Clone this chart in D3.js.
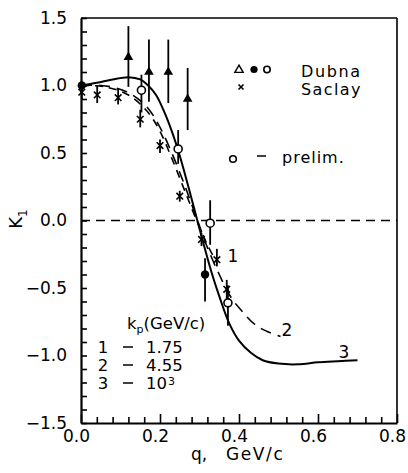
<!DOCTYPE html>
<html><head><meta charset="utf-8">
<script src="https://cdn.jsdelivr.net/npm/d3@7"></script>
<style>body{margin:0;background:#fff}svg{display:block}</style>
</head><body><svg id="c" width="408" height="473"></svg>
<script>
// ---------- data ----------
const xMajor = [0, 0.2, 0.4, 0.6, 0.8];
const xMajorLabels = ["0.0", "0.2", "0.4", "0.6", "0.8"];
const yMajor = [-1.5, -1.0, -0.5, 0.0, 0.5, 1.0, 1.5];
const yMajorLabels = ["\u22121.5", "\u22121.0", "\u22120.5", "0.0", "0.5", "1.0", "1.5"];

// theory curves (q, K1)
const curve1Q = [0.0, 0.06, 0.12, 0.17, 0.20, 0.23, 0.26, 0.29, 0.32, 0.345];
const curve1K = [1.0, 0.99, 0.93, 0.80, 0.66, 0.46, 0.24, 0.02, -0.18, -0.32];
const curve2Q = [0.0, 0.05, 0.09, 0.13, 0.17, 0.20, 0.23, 0.26, 0.28, 0.30, 0.32, 0.35, 0.38, 0.41, 0.44, 0.47, 0.505];
const curve2K = [1.0, 1.0, 0.98, 0.93, 0.83, 0.69, 0.50, 0.28, 0.12, -0.04, -0.20, -0.40, -0.57, -0.68, -0.77, -0.82, -0.86];
const curve3Q = [0.0, 0.04, 0.08, 0.12, 0.15, 0.17, 0.19, 0.21, 0.23, 0.25, 0.27, 0.29, 0.31, 0.33, 0.35, 0.375, 0.40, 0.43, 0.46, 0.50, 0.55, 0.60, 0.65, 0.70];
const curve3K = [1.0, 1.02, 1.045, 1.062, 1.045, 1.0, 0.93, 0.81, 0.66, 0.48, 0.27, 0.05, -0.17, -0.38, -0.56, -0.76, -0.89, -0.98, -1.035, -1.06, -1.065, -1.05, -1.042, -1.035];

// Dubna triangles
const triQ  = [0.12, 0.172, 0.221, 0.27];
const triK  = [1.21, 1.10, 1.10, 0.90];
const triLo = [0.99, 0.88, 0.87, 0.67];
const triHi = [1.44, 1.34, 1.34, 1.13];
// Dubna filled circles
const dotQ  = [0.002, 0.314];
const dotK  = [1.0, -0.40];
const dotLo = [1.0, -0.60];
const dotHi = [1.0, -0.28];
// preliminary (open circles)
const openQ  = [0.153, 0.246, 0.327, 0.372];
const openK  = [0.965, 0.53, -0.02, -0.61];
const openLo = [0.80, 0.42, -0.18, -0.78];
const openHi = [1.08, 0.67, 0.15, -0.48];
// Saclay crosses
const sacQ  = [0.002, 0.041, 0.094, 0.15, 0.20, 0.25, 0.305, 0.344, 0.369];
const sacK  = [0.95, 0.93, 0.91, 0.75, 0.555, 0.18, -0.14, -0.29, -0.51];
const sacLo = [0.90, 0.87, 0.86, 0.69, 0.50, 0.14, -0.19, -0.34, -0.58];
const sacHi = [1.00, 1.00, 0.98, 0.82, 0.60, 0.22, -0.09, -0.21, -0.44];

// ---------- drawing ----------
const FONT = "DejaVu Sans, Liberation Sans, sans-serif";
const svg = d3.select("#c");
svg.append("rect").attr("width", 408).attr("height", 473).attr("fill", "#fff");

const x = d3.scaleLinear().domain([0, 0.8]).range([81, 397]);
const y = d3.scaleLinear().domain([-1.5, 1.5]).range([423, 18]);

// frame
svg.append("line").attr("x1", x(0)).attr("x2", x(0.8)).attr("y1", y(1.5)).attr("y2", y(1.5))
  .attr("stroke", "#000").attr("stroke-width", 1.6);
svg.append("line").attr("x1", x(0.8)).attr("x2", x(0.8)).attr("y1", y(1.5)).attr("y2", y(-1.5))
  .attr("stroke", "#000").attr("stroke-width", 1.6);

// y axis
const yMinor = d3.range(-15, 16).map(d => d / 10);
const yAx = svg.append("g").attr("transform", `translate(${x(0)},0)`)
  .call(d3.axisLeft(y).tickValues(yMinor).tickSizeInner(-6).tickSizeOuter(0).tickPadding(14)
    .tickFormat(d => { const i = yMajor.findIndex(v => Math.abs(v - d) < 1e-9); return i >= 0 ? yMajorLabels[i] : ""; }));
yAx.select(".domain").attr("stroke-width", 2.2);
yAx.selectAll(".tick line").attr("stroke-width", 1.6);
yAx.selectAll("text").attr("font-family", FONT).attr("font-size", 17).attr("fill", "#000");

// x axis
const xMinor = d3.range(0, 21).map(d => d * 0.04);
const xAx = svg.append("g").attr("transform", `translate(0,${y(-1.5)})`)
  .call(d3.axisBottom(x).tickValues(xMinor).tickSizeInner(-6).tickSizeOuter(0).tickPadding(7)
    .tickFormat(d => { const i = xMajor.findIndex(v => Math.abs(v - d) < 1e-9); return i >= 0 ? xMajorLabels[i] : ""; }));
xAx.select(".domain").attr("stroke-width", 2.2);
xAx.selectAll(".tick line").attr("stroke-width", 1.6)
  .attr("y2", d => xMajor.some(v => Math.abs(v - d) < 1e-9) ? -9 : -6);
xAx.selectAll("text").attr("font-family", FONT).attr("font-size", 17).attr("fill", "#000").attr("dx", -5);

// zero line
svg.append("line").attr("x1", x(0)).attr("x2", x(0.8)).attr("y1", y(0)).attr("y2", y(0))
  .attr("stroke", "#000").attr("stroke-width", 1.6).attr("stroke-dasharray", "9,6");

// curves
const line = d3.line().x(d => x(d[0])).y(d => y(d[1])).curve(d3.curveCatmullRom.alpha(0.5));
svg.append("path").attr("d", line(d3.zip(curve1Q, curve1K))).attr("fill", "none")
  .attr("stroke", "#000").attr("stroke-width", 1.6).attr("stroke-dasharray", "8,6");
svg.append("path").attr("d", line(d3.zip(curve2Q, curve2K))).attr("fill", "none")
  .attr("stroke", "#000").attr("stroke-width", 1.6).attr("stroke-dasharray", "11,7");
svg.append("path").attr("d", line(d3.zip(curve3Q, curve3K))).attr("fill", "none")
  .attr("stroke", "#000").attr("stroke-width", 2);

// error bars
function bars(Q, Lo, Hi) {
  svg.append("g").selectAll("line").data(d3.range(Q.length)).join("line")
    .attr("x1", i => x(Q[i])).attr("x2", i => x(Q[i]))
    .attr("y1", i => y(Hi[i])).attr("y2", i => y(Lo[i]))
    .attr("stroke", "#000").attr("stroke-width", 1.8);
}
bars(triQ, triLo, triHi);
bars(dotQ, dotLo, dotHi);
bars(openQ, openLo, openHi);
bars(sacQ, sacLo, sacHi);

// markers
const tri = d3.symbol().type(d3.symbolTriangle).size(40);
svg.append("g").selectAll("path").data(d3.range(triQ.length)).join("path")
  .attr("d", tri).attr("transform", i => `translate(${x(triQ[i])},${y(triK[i])})`).attr("fill", "#000");
svg.append("g").selectAll("circle").data(d3.range(dotQ.length)).join("circle")
  .attr("cx", i => x(dotQ[i])).attr("cy", i => y(dotK[i])).attr("r", 4.2).attr("fill", "#000");
svg.append("g").selectAll("circle").data(d3.range(openQ.length)).join("circle")
  .attr("cx", i => x(openQ[i])).attr("cy", i => y(openK[i])).attr("r", 4).attr("fill", "#fff")
  .attr("stroke", "#000").attr("stroke-width", 1.6);
const cross = d3.symbol().type(d3.symbolX).size(30);
svg.append("g").selectAll("path").data(d3.range(sacQ.length)).join("path")
  .attr("d", cross).attr("transform", i => `translate(${x(sacQ[i])},${y(sacK[i])})`)
  .attr("fill", "none").attr("stroke", "#000").attr("stroke-width", 1.6);

// legend
svg.append("path").attr("d", d3.symbol().type(d3.symbolTriangle).size(30)())
  .attr("transform", "translate(239,70)").attr("fill", "none").attr("stroke", "#000").attr("stroke-width", 1.4);
svg.append("circle").attr("cx", 254).attr("cy", 69.5).attr("r", 3.6).attr("fill", "#000");
svg.append("circle").attr("cx", 267).attr("cy", 69.5).attr("r", 3.2).attr("fill", "none").attr("stroke", "#000").attr("stroke-width", 1.6);
svg.append("path").attr("d", d3.symbol().type(d3.symbolX).size(18)())
  .attr("transform", "translate(241,87)").attr("fill", "none").attr("stroke", "#000").attr("stroke-width", 1.6);
const txt = (t, xx, yy, size, anchor) => svg.append("text").attr("x", xx).attr("y", yy)
  .attr("font-family", FONT).attr("font-size", size).attr("text-anchor", anchor || "start").attr("fill", "#000").text(t);
txt("Dubna", 301, 77, 16).attr("letter-spacing", 1.6);
txt("Saclay", 301, 95, 16).attr("letter-spacing", 1.4);
svg.append("circle").attr("cx", 233).attr("cy", 159).attr("r", 3.3).attr("fill", "none").attr("stroke", "#000").attr("stroke-width", 1.6);
svg.append("line").attr("x1", 257).attr("x2", 266).attr("y1", 156).attr("y2", 156).attr("stroke", "#000").attr("stroke-width", 1.5);
txt("prelim.", 282, 163, 16).attr("letter-spacing", 1);

// curve labels
txt("1", 233, 262, 17, "middle");
txt("2", 287, 336, 17, "middle");
txt("3", 344, 358, 17, "middle");

// kp block
const kp = svg.append("text").attr("x", 127).attr("y", 329).attr("font-family", FONT).attr("font-size", 16.5).attr("fill", "#000");
kp.append("tspan").text("k");
kp.append("tspan").attr("font-size", 11).attr("dy", 4).text("p");
kp.append("tspan").attr("dy", -4).text("(GeV/c)");
const rowsN = ["1", "2", "3"];
const rowsV = ["1.75", "4.55", "10"];
const rowsY = [353, 371, 389];
rowsN.forEach((n, i) => {
  txt(n, 103, rowsY[i], 16.5, "middle");
  svg.append("line").attr("x1", 123).attr("x2", 133).attr("y1", rowsY[i] - 6).attr("y2", rowsY[i] - 6).attr("stroke", "#000").attr("stroke-width", 1.5);
  txt(rowsV[i], 146, rowsY[i], 16.5);
});
txt("3", 168, 385, 11);

// axis titles
const xt = svg.append("text").attr("y", 460).attr("font-family", FONT).attr("font-size", 17).attr("fill", "#000");
xt.append("tspan").attr("x", 191).text("q,");
xt.append("tspan").attr("x", 226).attr("letter-spacing", 1.6).text("GeV/c");
const yt = svg.append("text").attr("transform", "translate(22,219) rotate(-90)").attr("text-anchor", "middle")
  .attr("font-family", FONT).attr("font-size", 18).attr("fill", "#000");
yt.append("tspan").text("K");
yt.append("tspan").attr("font-size", 12).attr("dy", 5).text("1");
</script></body></html>
